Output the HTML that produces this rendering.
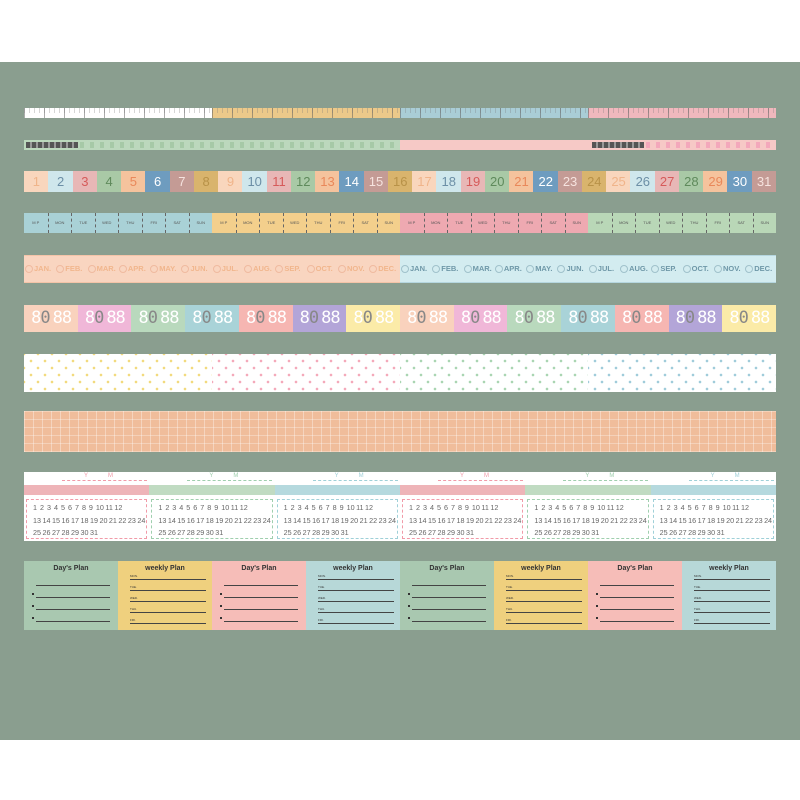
<!DOCTYPE html><html><head><meta charset="utf-8"><style>
body{margin:0;background:#fff;width:800px;height:800px;overflow:hidden;font-family:"Liberation Sans",sans-serif}
#p{position:absolute;left:0;top:62px;width:800px;height:678px;background:#8a9e8f}
.a{position:absolute;box-sizing:border-box;overflow:hidden}
</style></head><body><div id="p"></div><div id="c"></div>
<script>
var c=document.getElementById('c'),h='';
function b(x,y,w,ht,bg,extra,inner){h+='<div class="a" style="left:'+x+'px;top:'+y+'px;width:'+w+'px;height:'+ht+'px;background:'+bg+';'+(extra||'')+'">'+(inner||'')+'</div>';}
var r1=['#ffffff','#ecc98a','#a9cdd6','#f0b8bd'];
for(var i=0;i<4;i++)b(24+i*188,108,188,10,r1[i],'background-image:repeating-linear-gradient(90deg,rgba(120,120,120,.3) 0 1px,transparent 1px 5px),repeating-linear-gradient(90deg,rgba(90,90,90,.5) 0 1px,transparent 1px 20px);background-size:100% 5px,100% 10px;background-repeat:no-repeat');
b(24,140,376,10,'#bcd8bd');b(400,140,376,10,'#f6c9c6');
b(26,142,52,6,'transparent','background-image:repeating-linear-gradient(90deg,#555 0 4px,#999 4px 6px)');
b(592,142,52,6,'transparent','background-image:repeating-linear-gradient(90deg,#555 0 4px,#999 4px 6px)');
b(80,142,320,6,'transparent','background-image:repeating-linear-gradient(90deg,#a6c9a7 0 4px,transparent 4px 10px)');
b(646,142,130,6,'transparent','background-image:repeating-linear-gradient(90deg,#f3a8bb 0 4px,transparent 4px 10px)');
var bc=['#f9d6bd','#cfe7ec','#e8b7b6','#a9c9a6','#f5c39d','#6e9cbf','#c49b95','#d9b46d'];
var tc=['#f0b48a','#6c8fa6','#d65a5a','#5f8a5c','#e9885a','#ffffff','#f6e3df','#b89248'];
var w3=752/31;
for(var i=0;i<31;i++)b(24+i*w3,171,w3+0.5,21,bc[i%8],'color:'+tc[i%8]+';font-size:13px;text-align:center;line-height:21px',(i+1));
var r4=['#a9d1d6','#f3cf8c','#eea9b1','#b9d7b7'];
var dn=['M P','MON','TUE','WED','THU','FRI','SAT','SUN'];
for(var i=0;i<4;i++){var s='';for(var j=0;j<8;j++)s+='<div class="a" style="left:'+(j*23.5)+'px;top:0;width:23.5px;height:20px;border-left:'+(j?'1px dashed #666':'0')+';font-size:4px;color:#555;text-align:center;line-height:20px">'+dn[j]+'</div>';b(24+i*188,213,188,20,r4[i],'',s);}
var mo=['JAN.','FEB.','MAR.','APR.','MAY.','JUN.','JUL.','AUG.','SEP.','OCT.','NOV.','DEC.'];
function ms(col){var s='';for(var k=0;k<12;k++)s+='<span style="display:inline-block;width:31.3px;white-space:nowrap"><span style="display:inline-block;width:6px;height:6px;border:1px solid '+col+';border-radius:50%;vertical-align:middle;opacity:.6;margin-right:1px"></span>'+mo[k]+'</span>';return s;}
b(24,255,376,28,'#f9d5c0','border-top:1px solid #f4c4a8;border-bottom:1px solid #f4c4a8;color:#f1b68d;font-size:7.5px;font-weight:bold;line-height:26px;white-space:nowrap;padding-left:1px',ms('#e9a98a'));
b(400,255,376,28,'#d3ecf0','border-top:1px solid #b5d6df;border-bottom:1px solid #b5d6df;color:#6f98a8;font-size:7.5px;font-weight:bold;line-height:26px;white-space:nowrap;padding-left:1px',ms('#7fa5b2'));
var r6=['#f9d2bd','#f0b7d8','#b9d9bd','#a9d3d8','#f6b6b2','#b3a5d8','#fbeba8'];
var w6=752/14;
for(var i=0;i<14;i++)b(24+i*w6,305,w6+0.5,27,r6[i%7],'color:#fff;font-size:17px;font-family:\'DejaVu Sans Mono\',monospace;line-height:27px;text-align:center;white-space:nowrap;letter-spacing:-1px','8<span style="color:#888">0</span><span style="margin-left:3px">88</span>');
var r7=['#f2d97a','#f4a7b8','#a8d4b0','#9dcbd9'];
for(var i=0;i<4;i++)b(24+i*188,354,188,38,'#fff','background-image:radial-gradient(circle,'+r7[i]+' 1px,transparent 1.6px),radial-gradient(circle,'+r7[i]+' 1px,transparent 1.6px);background-size:14px 14px;background-position:0 0,7px 7px');
b(24,411,752,41,'#f0bd9b','background-image:repeating-linear-gradient(90deg,rgba(255,255,255,.35) 0 1px,transparent 1px 9px),repeating-linear-gradient(0deg,rgba(255,255,255,.3) 0 1px,transparent 1px 8px)');
b(24,472,752,69,'#fff');
var c9=['#eeb4b8','#c0dbc2','#b5d9de'],dc=['#f19aa8','#9fcfae','#9fd0d8'];
var w9=752/6;
for(var i=0;i<6;i++){var x=24+i*w9;var s='<div style="position:absolute;left:60px;top:1px;font-size:6px;color:'+dc[i%3]+'">Y&nbsp;&nbsp;&nbsp;&nbsp;&nbsp;&nbsp;&nbsp;&nbsp;&nbsp;&nbsp;&nbsp;&nbsp;M</div><div class="a" style="left:38px;top:8px;width:85px;border-top:1px dashed '+dc[i%3]+'"></div><div class="a" style="left:0;top:13px;width:'+(w9+1)+'px;height:10px;background:'+c9[i%3]+'"></div><div class="a" style="left:2px;top:27px;width:'+(w9-4)+'px;height:40px;border:1px dashed '+dc[i%3]+';font-size:7.2px;color:#666;line-height:12.5px;padding:2px 0 0 6px;word-spacing:-0.5px">';
s+='1&nbsp; 2&nbsp; 3&nbsp; 4&nbsp; 5&nbsp; 6&nbsp; 7&nbsp; 8&nbsp; 9&nbsp; 10 11 12<br>13 14 15 16 17 18 19 20 21 22 23 24<br>25 26 27 28 29 30 31</div>';
b(x,472,w9,69,'transparent','',s);}
var c10=['#a9c8b0','#efd07e','#f6bdb8','#b7d8d8'];
var w10=94;
for(var i=0;i<8;i++){var d=i%2==0,s='<div style="text-align:center;font-size:7px;font-weight:bold;color:#333;margin-top:4px">'+(d?"Day's Plan":'weekly Plan')+'</div>';
for(var k=0;k<(d?4:5);k++){var ty=d?(24+k*12):(18+k*11);s+='<div class="a" style="left:12px;top:'+ty+'px;width:'+(d?74:76)+'px;border-top:1px solid #444"></div>';if(d&&k>0)s+='<div class="a" style="left:8px;top:'+(ty-4)+'px;width:2px;height:2px;background:#333"></div>';if(!d)s+='<div class="a" style="left:12px;top:'+(ty-5)+'px;font-size:3px;color:#333">'+['MON.','TUE.','WED.','THU.','FRI.'][k]+'</div>';}
b(24+i*w10,561,w10,69,c10[i%4],'',s);}
c.innerHTML=h;
</script></body></html>
